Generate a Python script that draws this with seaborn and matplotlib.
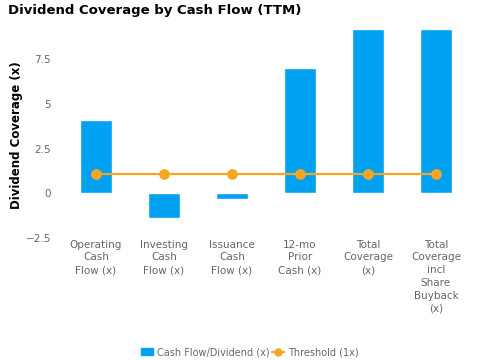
import matplotlib
matplotlib.use("Agg")
import matplotlib.pyplot as plt
import seaborn as sns
from matplotlib.patches import Patch
from matplotlib.lines import Line2D

categories = ["Operating\nCash\nFlow (x)", "Investing\nCash\nFlow (x)", "Issuance\nCash\nFlow (x)",
              "12-mo\nPrior\nCash (x)", "Total\nCoverage\n(x)", "Total\nCoverage\nincl\nShare\nBuyback\n(x)"]
coverage = [4.1, -1.4, -0.32, 7.0, 9.2, 9.2]
threshold = [1.05, 1.05, 1.05, 1.05, 1.05, 1.05]
yticks = [-2.5, 0, 2.5, 5, 7.5]
ytick_labels = ["\u22122.5", "0", "2.5", "5", "7.5"]

blue = "#00A1F1"
orange = "#F5A623"
gray = "#666666"

sns.set_theme(style="white")
plt.rcParams['font.family'] = ['DejaVu Sans']

fig = plt.figure(figsize=(4.8, 3.6), dpi=100)
ax = fig.add_axes([0.129, 0.319, 0.85, 0.598])

sns.barplot(x=categories, y=coverage, color=blue, width=0.46, saturation=1, ax=ax)
sns.pointplot(x=categories, y=threshold, color=orange, markers="o",
              linewidth=1.6, ax=ax)
for l in ax.lines:
    l.set_markersize(6.5)

ax.set_ylim(-2.92, 9.16)
ax.set_yticks(yticks)
ax.set_yticklabels(ytick_labels, fontsize=7.5, color=gray)
ax.tick_params(axis='x', labelsize=7.5, labelcolor=gray, length=0, pad=-4)
ax.tick_params(axis='y', length=0, pad=8)
for s in ax.spines.values():
    s.set_visible(False)
ax.set_ylabel("Dividend Coverage (x)", fontsize=8.5, fontweight='bold', color='black')
ax.yaxis.set_label_coords(-0.095, 0.51)
for t in ax.get_xticklabels():
    t.set_linespacing(1.35)

fig.text(0.017, 0.97, "Dividend Coverage by Cash Flow (TTM)", fontsize=9.5, fontweight='bold',
         ha='left', va='center', color='black')

handles = [Patch(facecolor=blue, edgecolor=blue),
           Line2D([0], [0], color=orange, marker='o', markersize=5, linewidth=1.5)]
fig.legend(handles, ["Cash Flow/Dividend (x)", "Threshold (1x)"], loc='center',
           bbox_to_anchor=(0.52, 0.022), ncol=2, frameon=False, fontsize=7,
           labelcolor=gray, handlelength=1.2, columnspacing=0.3, handletextpad=0.4)

fig.savefig("out.png", dpi=100)
